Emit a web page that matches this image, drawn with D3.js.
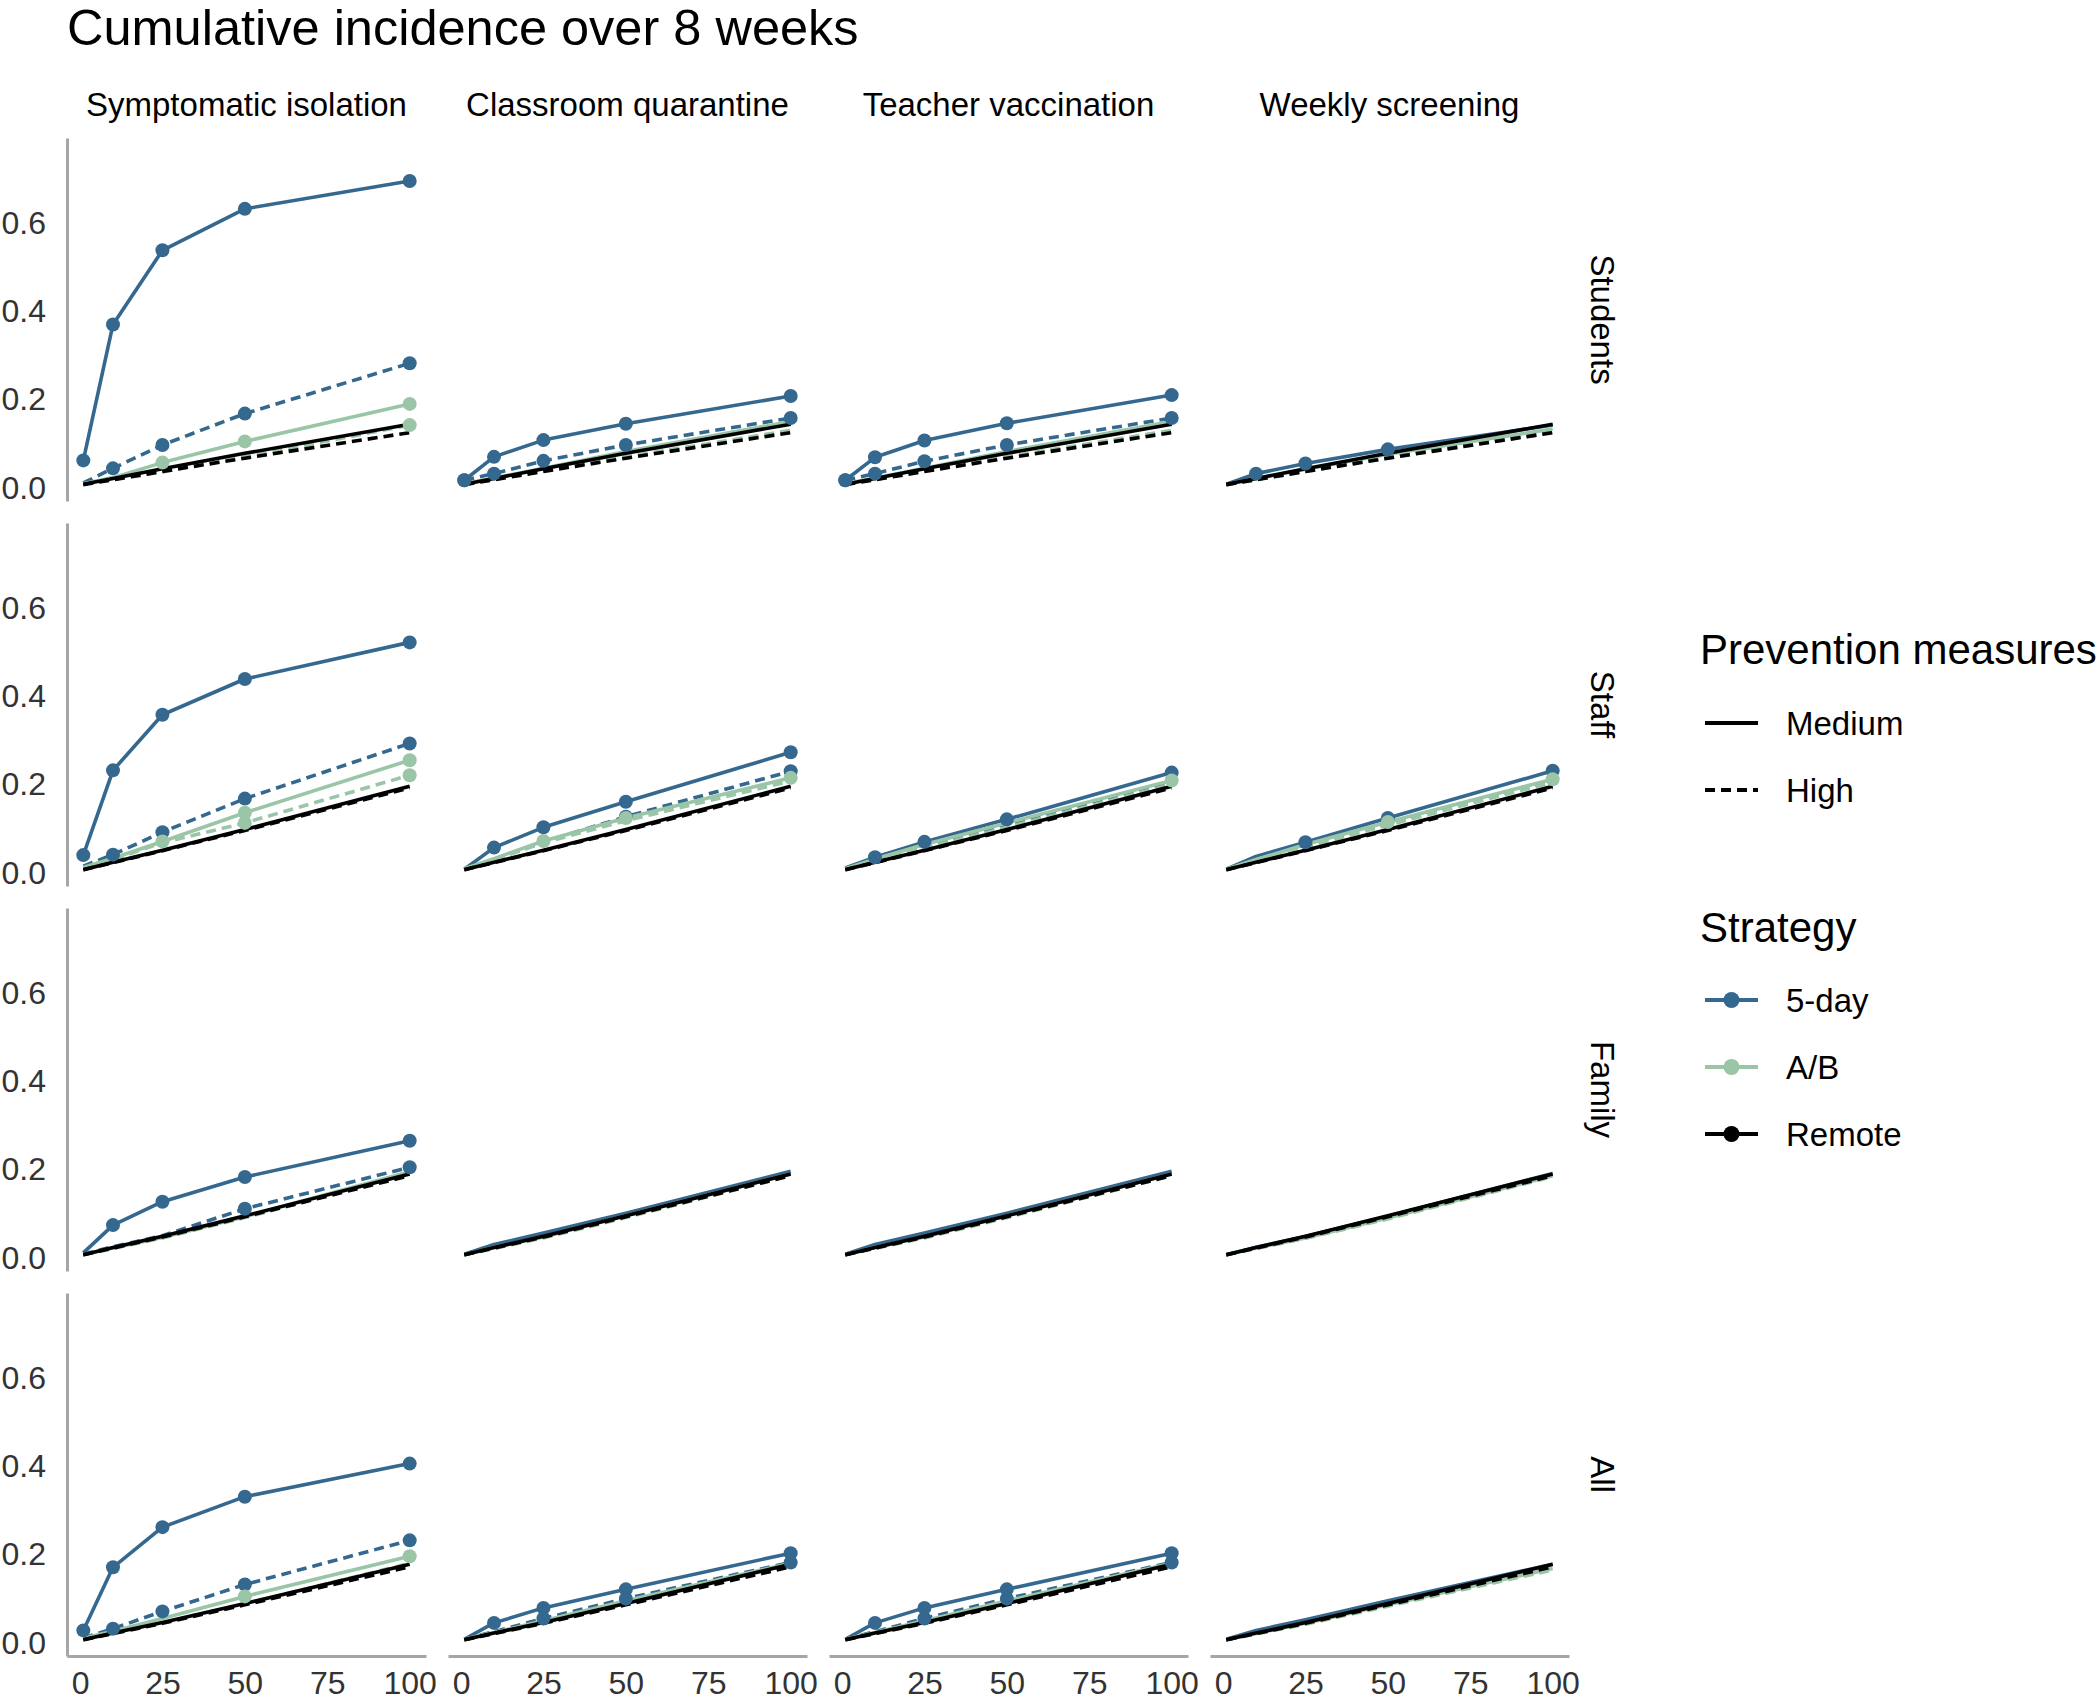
<!DOCTYPE html>
<html>
<head>
<meta charset="utf-8">
<script src="https://cdn.jsdelivr.net/npm/d3@7"></script>
<style>
  html, body { margin: 0; padding: 0; background: #fff; }
  svg { display: block; font-family: "Liberation Sans", Arial, Helvetica, sans-serif; }
</style>
</head>
<body>
<svg id="chart" width="2100" height="1702"></svg>
<script>
// ---------------- DATA ----------------
const xValues = [1, 10, 25, 50, 100];
const rowLabels = ["Students", "Staff", "Family", "All"];
const colLabels = ["Symptomatic isolation", "Classroom quarantine", "Teacher vaccination", "Weekly screening"];
const strategies = ["5-day", "A/B", "Remote"];
const measures = ["Medium", "High"];
const yTicks = [0, 0.2, 0.4, 0.6];
const xTicks = [0, 25, 50, 75, 100];

// values indexed [row][col] -> values at xValues
const fiveDayMedium = [
  [[0.062, 0.370, 0.538, 0.632, 0.695], [0.017, 0.070, 0.108, 0.145, 0.208], [0.017, 0.069, 0.107, 0.146, 0.210], [0.008, 0.032, 0.055, 0.087, 0.142]],
  [[0.040, 0.232, 0.358, 0.439, 0.522], [0.008, 0.057, 0.103, 0.161, 0.273], [0.011, 0.035, 0.070, 0.121, 0.227], [0.008, 0.037, 0.069, 0.124, 0.231]],
  [[0.011, 0.074, 0.127, 0.183, 0.265], [0.008, 0.030, 0.056, 0.101, 0.196], [0.008, 0.030, 0.056, 0.101, 0.196], [0.007, 0.024, 0.048, 0.094, 0.191]],
  [[0.028, 0.171, 0.262, 0.331, 0.406], [0.008, 0.045, 0.079, 0.121, 0.203], [0.008, 0.045, 0.079, 0.121, 0.203], [0.008, 0.028, 0.052, 0.095, 0.178]]
];
const fiveDayHigh = [
  [[0.011, 0.044, 0.097, 0.168, 0.282], [0.017, 0.032, 0.061, 0.097, 0.158], [0.017, 0.032, 0.060, 0.097, 0.158], [0.007, 0.020, 0.038, 0.070, 0.127]],
  [[0.015, 0.041, 0.092, 0.168, 0.293], [0.008, 0.030, 0.070, 0.127, 0.230], [0.009, 0.029, 0.060, 0.108, 0.205], [0.008, 0.030, 0.062, 0.112, 0.210]],
  [[0.008, 0.025, 0.050, 0.111, 0.205], [0.007, 0.024, 0.048, 0.095, 0.188], [0.007, 0.024, 0.048, 0.095, 0.188], [0.007, 0.022, 0.045, 0.090, 0.186]],
  [[0.011, 0.032, 0.071, 0.132, 0.232], [0.008, 0.025, 0.055, 0.100, 0.182], [0.008, 0.025, 0.055, 0.100, 0.182], [0.007, 0.022, 0.045, 0.088, 0.172]]
];
const abMedium = [
  [[0.009, 0.023, 0.057, 0.105, 0.190], [0.009, 0.022, 0.044, 0.082, 0.150], [0.009, 0.022, 0.044, 0.082, 0.150], [0.008, 0.021, 0.042, 0.076, 0.133]],
  [[0.012, 0.033, 0.071, 0.136, 0.255], [0.009, 0.032, 0.072, 0.124, 0.215], [0.009, 0.031, 0.064, 0.113, 0.209], [0.008, 0.030, 0.064, 0.115, 0.212]],
  [[0.007, 0.022, 0.046, 0.093, 0.195], [0.007, 0.023, 0.047, 0.095, 0.190], [0.007, 0.023, 0.047, 0.095, 0.190], [0.007, 0.022, 0.045, 0.090, 0.186]],
  [[0.010, 0.026, 0.055, 0.105, 0.196], [0.008, 0.023, 0.050, 0.095, 0.180], [0.008, 0.023, 0.050, 0.095, 0.180], [0.007, 0.021, 0.044, 0.086, 0.168]]
];
const abHigh = [
  [[0.009, 0.018, 0.036, 0.070, 0.142], [0.008, 0.019, 0.038, 0.070, 0.130], [0.008, 0.019, 0.038, 0.070, 0.130], [0.007, 0.018, 0.037, 0.067, 0.125]],
  [[0.011, 0.030, 0.068, 0.113, 0.221], [0.008, 0.029, 0.068, 0.118, 0.208], [0.008, 0.027, 0.056, 0.103, 0.200], [0.008, 0.028, 0.058, 0.108, 0.205]],
  [[0.007, 0.021, 0.045, 0.091, 0.190], [0.007, 0.021, 0.045, 0.091, 0.186], [0.007, 0.021, 0.045, 0.091, 0.186], [0.007, 0.021, 0.044, 0.088, 0.184]],
  [[0.009, 0.022, 0.045, 0.088, 0.180], [0.007, 0.021, 0.046, 0.090, 0.175], [0.007, 0.021, 0.046, 0.090, 0.175], [0.007, 0.020, 0.042, 0.083, 0.165]]
];
const remoteMedium = [
  [[0.008, 0.021, 0.043, 0.078, 0.144], [0.008, 0.021, 0.043, 0.078, 0.144], [0.008, 0.021, 0.043, 0.078, 0.144], [0.008, 0.021, 0.043, 0.078, 0.144]],
  [[0.007, 0.024, 0.051, 0.098, 0.196], [0.007, 0.024, 0.051, 0.098, 0.196], [0.007, 0.024, 0.051, 0.098, 0.196], [0.007, 0.024, 0.051, 0.098, 0.196]],
  [[0.007, 0.023, 0.049, 0.095, 0.190], [0.007, 0.023, 0.049, 0.095, 0.190], [0.007, 0.023, 0.049, 0.095, 0.190], [0.007, 0.023, 0.049, 0.095, 0.190]],
  [[0.007, 0.022, 0.046, 0.089, 0.178], [0.007, 0.022, 0.046, 0.089, 0.178], [0.007, 0.022, 0.046, 0.089, 0.178], [0.007, 0.022, 0.046, 0.089, 0.178]]
];
const remoteHigh = [
  [[0.007, 0.018, 0.037, 0.067, 0.125], [0.007, 0.018, 0.037, 0.067, 0.125], [0.007, 0.018, 0.037, 0.067, 0.125], [0.007, 0.018, 0.037, 0.067, 0.125]],
  [[0.007, 0.023, 0.050, 0.096, 0.192], [0.007, 0.023, 0.050, 0.096, 0.192], [0.007, 0.023, 0.050, 0.096, 0.192], [0.007, 0.023, 0.050, 0.096, 0.192]],
  [[0.007, 0.022, 0.047, 0.093, 0.186], [0.007, 0.022, 0.047, 0.093, 0.186], [0.007, 0.022, 0.047, 0.093, 0.186], [0.007, 0.022, 0.047, 0.093, 0.186]],
  [[0.007, 0.021, 0.044, 0.086, 0.172], [0.007, 0.021, 0.044, 0.086, 0.172], [0.007, 0.021, 0.044, 0.086, 0.172], [0.007, 0.021, 0.044, 0.086, 0.172]]
];
// which points are marked ("1" = point drawn), indexed [row][col]
const fiveDayMediumPts = [
  ["11111", "11111", "11111", "01110"],
  ["11111", "01111", "01111", "00111"],
  ["01111", "00000", "00000", "00000"],
  ["11111", "01111", "01111", "00000"]
];
const fiveDayHighPts = [
  ["01111", "11111", "11111", "00000"],
  ["01111", "00011", "00000", "00000"],
  ["00011", "00000", "00000", "00000"],
  ["01111", "00111", "00111", "00000"]
];
const abMediumPts = [
  ["00111", "00000", "00000", "00000"],
  ["00111", "00111", "00001", "00011"],
  ["00000", "00000", "00000", "00000"],
  ["00011", "00000", "00000", "00000"]
];
const abHighPts = [
  ["00001", "00000", "00000", "00000"],
  ["00011", "00000", "00000", "00000"],
  ["00000", "00000", "00000", "00000"],
  ["00000", "00000", "00000", "00000"]
];
const nonePts = [
  ["00000", "00000", "00000", "00000"],
  ["00000", "00000", "00000", "00000"],
  ["00000", "00000", "00000", "00000"],
  ["00000", "00000", "00000", "00000"]
];

// ---------------- STYLE / LAYOUT ----------------
const colors = { "5-day": "#35688e", "A/B": "#9ac5a6", "Remote": "#000000" };
const dashes = { "Medium": null, "High": "10,6" };
const series = [
  { strategy: "5-day", measure: "Medium", vals: fiveDayMedium, pts: fiveDayMediumPts },
  { strategy: "5-day", measure: "High", vals: fiveDayHigh, pts: fiveDayHighPts },
  { strategy: "A/B", measure: "Medium", vals: abMedium, pts: abMediumPts },
  { strategy: "A/B", measure: "High", vals: abHigh, pts: abHighPts },
  { strategy: "Remote", measure: "Medium", vals: remoteMedium, pts: nonePts },
  { strategy: "Remote", measure: "High", vals: remoteHigh, pts: nonePts }
];

const panelLeft0 = 67, panelStepX = 381, panelW = 359;
const panelTop0 = 138, panelStepY = 385, panelH = 363;
const axisColor = "#a6a6a6";
const tickColor = "#333333";
const lineW = 3.6, pointR = 7;

const svg = d3.select("#chart");

const x = d3.scaleLinear().domain([-3.95, 104.95]).range([0, panelW]);
const y = d3.scaleLinear().domain([-0.03, 0.7925]).range([panelH, 0]);
const line = d3.line().x((d) => x(d.x)).y((d) => y(d.v));

// Title
svg.append("text").attr("x", 67).attr("y", 45)
  .attr("font-size", 50.5).attr("fill", "#000")
  .text("Cumulative incidence over 8 weeks");

// Column strips
colLabels.forEach((lab, c) => {
  svg.append("text")
    .attr("x", panelLeft0 + c * panelStepX + panelW / 2).attr("y", 116)
    .attr("text-anchor", "middle").attr("font-size", 33).attr("fill", "#000")
    .text(lab);
});

// Row strips
rowLabels.forEach((lab, r) => {
  const cy = panelTop0 + r * panelStepY + panelH / 2;
  svg.append("text")
    .attr("transform", `translate(1602,${cy}) rotate(90)`)
    .attr("text-anchor", "middle").attr("dominant-baseline", "central")
    .attr("font-size", 33).attr("fill", "#000")
    .text(lab);
});

// Panels
rowLabels.forEach((rl, r) => {
  colLabels.forEach((cl, c) => {
    const g = svg.append("g")
      .attr("transform", `translate(${panelLeft0 + c * panelStepX},${panelTop0 + r * panelStepY})`);

    if (c === 0) {
      const ya = g.append("g").call(
        d3.axisLeft(y).tickValues(yTicks).tickFormat(d3.format(".1f"))
          .tickSize(0).tickPadding(21)
      );
      ya.select(".domain").attr("stroke", axisColor).attr("stroke-width", 3);
      ya.selectAll("text").attr("font-size", 32).attr("fill", tickColor)
        .attr("font-family", "Liberation Sans, Arial, sans-serif");
    }
    if (r === rowLabels.length - 1) {
      const xa = g.append("g").attr("transform", `translate(0,${panelH})`).call(
        d3.axisBottom(x).tickValues(xTicks).tickSize(0).tickPadding(15)
      );
      xa.select(".domain").attr("stroke", axisColor).attr("stroke-width", 3);
      xa.selectAll("text").attr("font-size", 32).attr("fill", tickColor)
        .attr("font-family", "Liberation Sans, Arial, sans-serif");
    }

    // lines
    series.forEach((s) => {
      const data = xValues.map((xv, i) => ({ x: xv, v: s.vals[r][c][i] }));
      g.append("path").datum(data)
        .attr("d", line)
        .attr("fill", "none")
        .attr("stroke", colors[s.strategy])
        .attr("stroke-width", lineW)
        .attr("stroke-dasharray", dashes[s.measure])
        .attr("stroke-linejoin", "round");
    });
    // points
    series.forEach((s) => {
      const flags = s.pts[r][c];
      const data = xValues.map((xv, i) => ({ x: xv, v: s.vals[r][c][i], show: flags[i] === "1" }))
        .filter((d) => d.show);
      g.selectAll(null).data(data).enter().append("circle")
        .attr("cx", (d) => x(d.x)).attr("cy", (d) => y(d.v))
        .attr("r", pointR).attr("fill", colors[s.strategy]);
    });
  });
});

// Legend: Prevention measures
const lg = svg.append("g");
lg.append("text").attr("x", 1700).attr("y", 664).attr("font-size", 42).attr("fill", "#000")
  .text("Prevention measures");
const measureY = [723, 790];
measures.forEach((m, i) => {
  lg.append("line").attr("x1", 1705).attr("x2", 1758)
    .attr("y1", measureY[i]).attr("y2", measureY[i])
    .attr("stroke", "#000").attr("stroke-width", 3.8)
    .attr("stroke-dasharray", dashes[m]);
  lg.append("text").attr("x", 1786).attr("y", measureY[i] + 12)
    .attr("font-size", 33).attr("fill", "#000").text(m);
});
lg.append("text").attr("x", 1700).attr("y", 942).attr("font-size", 42).attr("fill", "#000")
  .text("Strategy");
const stratY = [1000, 1067, 1134];
strategies.forEach((s, i) => {
  lg.append("line").attr("x1", 1705).attr("x2", 1758)
    .attr("y1", stratY[i]).attr("y2", stratY[i])
    .attr("stroke", colors[s]).attr("stroke-width", 3.8);
  lg.append("circle").attr("cx", 1731.5).attr("cy", stratY[i]).attr("r", 8)
    .attr("fill", colors[s]);
  lg.append("text").attr("x", 1786).attr("y", stratY[i] + 12)
    .attr("font-size", 33).attr("fill", "#000").text(s);
});
</script>
</body>
</html>
